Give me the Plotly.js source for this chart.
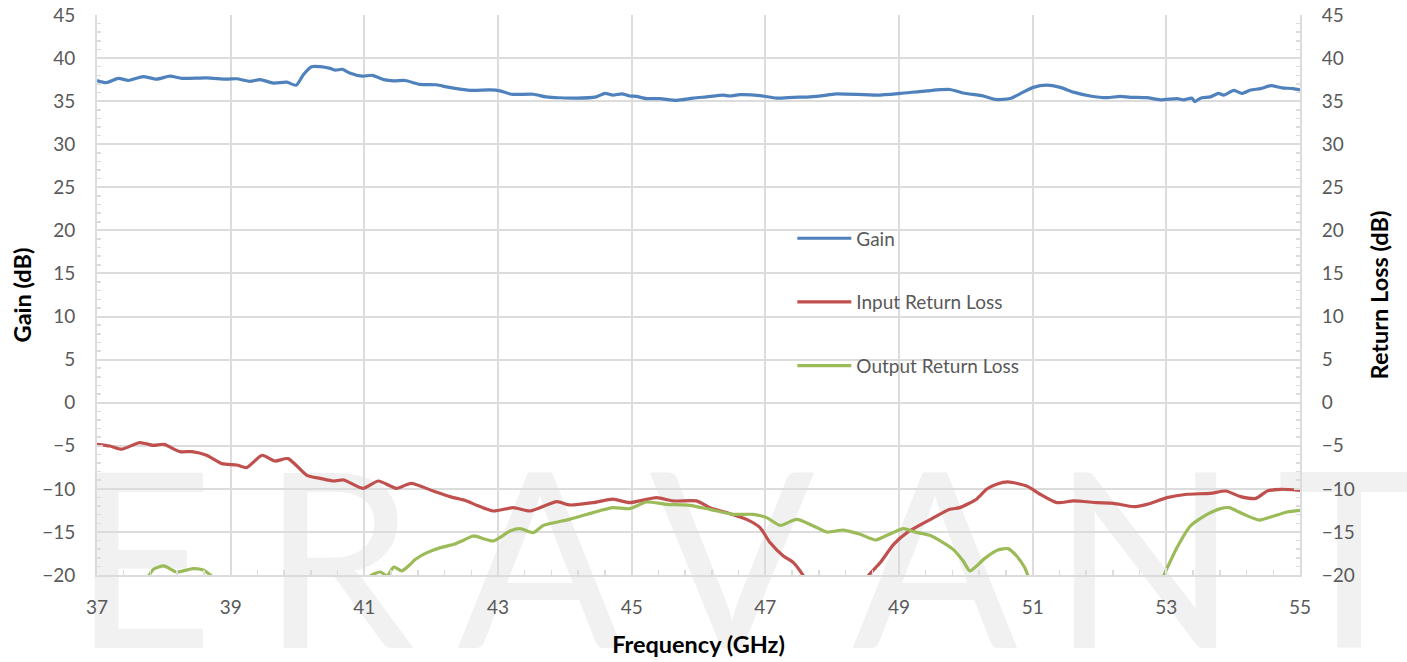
<!DOCTYPE html>
<html>
<head>
<meta charset="utf-8">
<script src="https://cdn.plot.ly/plotly-3.0.1.min.js"></script>
<style>
  html, body { margin:0; padding:0; background:#ffffff; }
  #wrap { position:relative; width:1407px; height:662px; overflow:hidden; }
  #wm { position:absolute; left:0; top:0; width:1407px; height:662px; z-index:0; overflow:hidden; }
  #wm span { position:absolute; top:463px; height:180px; width:240px; text-align:center; font-family:Lato, sans-serif; font-weight:400; font-size:245px; line-height:180px; color:#f1f1f1; }
  #chart { position:absolute; left:0; top:0; z-index:1; }
</style>
</head>
<body>
<div id="wrap">
  <div id="wm"></div>
  <div id="chart"></div>
</div>
<script>
// ---- data ----
const watermarkLetters = ["E","R","A","V","A","N","T"];

const freqGain = [37.00,37.14,37.32,37.47,37.69,37.89,38.09,38.27,38.64,38.94,39.09,39.29,39.44,39.64,39.84,39.98,40.09,40.21,40.34,40.49,40.57,40.67,40.77,40.97,41.12,41.29,41.44,41.61,41.83,42.08,42.23,42.43,42.63,42.88,43.03,43.20,43.53,43.72,44.17,44.47,44.60,44.72,44.85,44.97,45.07,45.22,45.42,45.67,45.92,46.12,46.37,46.47,46.62,46.92,47.17,47.42,47.67,47.92,48.07,48.67,49.02,49.42,49.76,49.96,50.26,50.44,50.66,50.81,51.01,51.21,51.41,51.61,51.86,52.11,52.31,52.46,52.71,52.91,53.16,53.26,53.38,53.43,53.51,53.66,53.78,53.86,54.01,54.13,54.26,54.41,54.56,54.73,54.90,55.00];
const gain = [37.4,37.15,37.65,37.4,37.85,37.55,37.9,37.65,37.7,37.55,37.6,37.3,37.5,37.1,37.2,36.85,38.1,39.0,39.0,38.8,38.6,38.7,38.3,37.9,38.0,37.5,37.35,37.4,36.95,36.9,36.65,36.4,36.25,36.3,36.2,35.8,35.8,35.5,35.35,35.5,35.9,35.7,35.85,35.6,35.55,35.3,35.3,35.1,35.35,35.5,35.7,35.6,35.75,35.65,35.35,35.45,35.5,35.7,35.85,35.7,35.9,36.2,36.35,35.95,35.6,35.2,35.3,35.85,36.6,36.85,36.6,36.05,35.6,35.4,35.55,35.45,35.4,35.15,35.3,35.15,35.35,34.95,35.35,35.5,35.9,35.7,36.25,35.9,36.3,36.45,36.8,36.55,36.45,36.3];

const freqIn = [37.00,37.19,37.37,37.64,37.84,38.00,38.24,38.42,38.64,38.87,39.09,39.24,39.47,39.66,39.86,40.14,40.34,40.54,40.69,40.98,41.21,41.48,41.70,42.03,42.28,42.53,42.68,42.93,43.23,43.48,43.88,44.07,44.42,44.72,44.97,45.37,45.62,45.97,46.17,46.42,46.72,46.92,47.07,47.27,47.42,47.57,47.62,48.00,48.50,48.54,48.72,48.92,49.12,49.46,49.76,49.91,50.16,50.31,50.46,50.63,50.91,51.11,51.36,51.61,51.96,52.21,52.51,52.71,53.01,53.31,53.66,53.89,54.11,54.34,54.51,54.71,55.00];
const inputRL = [-4.83,-5.03,-5.4,-4.63,-4.95,-4.83,-5.68,-5.68,-6.1,-7.07,-7.23,-7.53,-6.1,-6.77,-6.49,-8.43,-8.78,-9.09,-8.97,-9.94,-9.09,-9.94,-9.36,-10.25,-10.9,-11.4,-11.9,-12.57,-12.18,-12.57,-11.48,-11.87,-11.6,-11.2,-11.6,-11.02,-11.4,-11.4,-12.18,-12.76,-13.54,-14.5,-16.24,-17.8,-18.56,-20.1,-20.8,null,-20.8,-20.1,-18.56,-16.44,-15.08,-13.6,-12.38,-12.18,-11.2,-10.05,-9.47,-9.2,-9.67,-10.63,-11.6,-11.4,-11.6,-11.68,-12.07,-11.8,-11.02,-10.63,-10.52,-10.25,-10.9,-11.1,-10.25,-10.05,-10.17];

const freqOut = [37.72,37.85,38.00,38.19,38.44,38.59,38.71,38.76,39.90,41.05,41.09,41.24,41.34,41.44,41.56,41.69,41.76,41.94,42.14,42.34,42.50,42.63,42.93,43.18,43.33,43.53,43.68,44.07,44.42,44.72,44.97,45.22,45.52,45.87,46.17,46.52,46.82,47.02,47.22,47.47,47.72,47.92,48.17,48.42,48.65,48.82,49.07,49.22,49.46,49.66,49.81,49.96,50.06,50.16,50.28,50.48,50.63,50.76,50.88,50.93,50.96,52.00,52.93,52.96,53.16,53.36,53.61,53.81,53.94,54.16,54.39,54.61,54.81,55.00];
const outputRL = [-20.8,-19.3,-18.95,-19.65,-19.26,-19.42,-20.1,-20.8,null,-20.8,-20.1,-19.65,-20.1,-19.07,-19.53,-18.75,-18.2,-17.4,-16.82,-16.44,-15.9,-15.47,-16.05,-14.89,-14.62,-15.08,-14.24,-13.54,-12.76,-12.18,-12.3,-11.53,-11.8,-11.91,-12.38,-12.96,-12.96,-13.34,-14.24,-13.54,-14.31,-15.01,-14.78,-15.28,-15.94,-15.39,-14.62,-14.97,-15.4,-16.24,-17.02,-18.38,-19.53,-18.95,-18.1,-17.1,-16.94,-17.8,-19.14,-20.1,-20.8,null,-20.8,-20.1,-16.82,-14.31,-12.96,-12.3,-12.18,-12.96,-13.62,-13.15,-12.69,-12.5];

const seriesNames = ["Gain","Input Return Loss","Output Return Loss"];
const seriesColors = ["#4f81bd","#c0504d","#9bbb59"];
const xTitle = "Frequency (GHz)";
const yTitle = "Gain (dB)";
const y2Title = "Return Loss (dB)";

// ---- watermark (behind the chart) ----
const wmCenters = [143,338,540,732,935,1145,1349];
const wm = document.getElementById('wm');
watermarkLetters.forEach((ch,i)=>{
  const s = document.createElement('span');
  s.textContent = ch;
  s.style.left = (wmCenters[i]-120)+'px';
  wm.appendChild(s);
});

// ---- minor tick positions (axis styling) ----
const xMinor = [];
for (let i = 0; i <= 45; i++) { if (i % 5 !== 0) xMinor.push(Math.round((37 + i*0.4)*100)/100); }
const yMinor = [];
for (let v = -20; v <= 45; v++) { if (((v % 5) + 5) % 5 !== 0) yMinor.push(v); }

// ---- chart ----
const gridC = '#dcdcdc';
const tickFont = {family:'Lato, sans-serif', size:19, color:'#595959'};
const titleFont = {family:'Lato, sans-serif', size:23.5, color:'#000000', weight:'bold'};

const traces = [
  {x:freqGain, y:gain, name:seriesNames[0], type:'scatter', mode:'lines', yaxis:'y', legendgroup:'g1',
   line:{color:seriesColors[0], width:3.2, shape:'spline', smoothing:0.6}},
  {x:freqIn, y:inputRL, name:seriesNames[1], type:'scatter', mode:'lines', yaxis:'y2', legendgroup:'g2', connectgaps:false,
   line:{color:seriesColors[1], width:3.2, shape:'spline', smoothing:0.6}},
  {x:freqOut, y:outputRL, name:seriesNames[2], type:'scatter', mode:'lines', yaxis:'y2', legendgroup:'g3', connectgaps:false,
   line:{color:seriesColors[2], width:3.2, shape:'spline', smoothing:0.6}}
];

const yCommon = {
  range:[-20,45], dtick:5, tick0:0, zeroline:false,
  showline:true, linecolor:gridC, linewidth:2,
  ticks:'inside', ticklen:6, tickcolor:gridC, tickwidth:2,
  minor:{tickmode:'array', tickvals:yMinor, ticks:'inside', ticklen:4, tickcolor:gridC, tickwidth:1.5, showgrid:false},
  tickfont:tickFont, ticklabelstandoff:16, fixedrange:true
};

const layout = {
  width:1407, height:662,
  margin:{l:97, r:107, t:15, b:87, pad:0},
  paper_bgcolor:'rgba(0,0,0,0)', plot_bgcolor:'rgba(0,0,0,0)',
  showlegend:true,
  legend:{x:0.578, y:0.635, xanchor:'left', yanchor:'top', bgcolor:'rgba(0,0,0,0)',
          font:{family:'Lato, sans-serif', size:19, color:'#595959'},
          tracegroupgap:36, itemwidth:54, traceorder:'grouped'},
  xaxis:{
    range:[37,55], dtick:2, tick0:37, zeroline:false,
    showgrid:true, gridcolor:gridC, gridwidth:2,
    showline:true, linecolor:gridC, linewidth:2,
    ticks:'inside', ticklen:7, tickcolor:gridC, tickwidth:2,
    minor:{tickmode:'array', tickvals:xMinor, ticks:'inside', ticklen:5, tickcolor:gridC, tickwidth:1.5, showgrid:false},
    tickfont:tickFont, ticklabelstandoff:14,
    title:{text:xTitle, font:titleFont, standoff:20}, fixedrange:true
  },
  yaxis:Object.assign({}, yCommon, {
    showgrid:true, gridcolor:gridC, gridwidth:2,
    title:{text:yTitle, font:titleFont, standoff:4}
  }),
  yaxis2:Object.assign({}, yCommon, {
    overlaying:'y', side:'right', showgrid:false,
    title:{text:y2Title, font:titleFont, standoff:18}
  })
};

Plotly.newPlot('chart', traces, layout, {staticPlot:true, displayModeBar:false});
</script>
</body>
</html>
